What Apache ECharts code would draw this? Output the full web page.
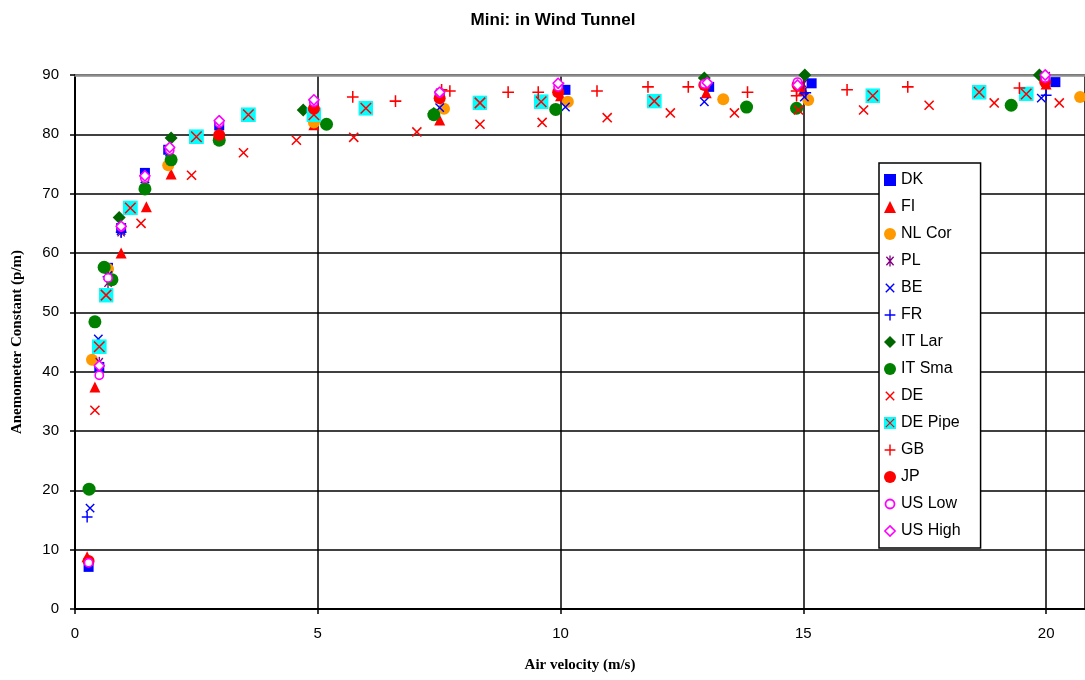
<!DOCTYPE html>
<html><head><meta charset="utf-8">
<script src="https://cdn.jsdelivr.net/npm/echarts@6/dist/echarts.min.js"></script>
<style>html,body{margin:0;padding:0;background:#fff}#c{width:1085px;height:680px}</style>
</head><body><div id="c"></div>
<script>
const seriesNames = ['DK','FI','NL Cor','PL','BE','FR','IT Lar','IT Sma','DE','DE Pipe','GB','JP','US Low','US High'];
const xTicks = [0,5,10,15,20];
const yTicks = [0,10,20,30,40,50,60,70,80,90];

const DK = [[0.28,7.1],[0.5,40.8],[0.68,57.5],[0.95,64.2],[1.44,73.5],[1.92,77.4],[2.97,81.5],[4.92,84.1],[7.51,86.5],[10.1,87.5],[13.06,88],[15.17,88.6],[20.19,88.8]];
const FI = [[0.25,8.8],[0.41,37.4],[0.95,60],[1.47,67.8],[1.98,73.3],[2.97,79.2],[4.92,81.6],[7.51,82.4],[10,86.5],[13,87],[15,87.5],[20,88.5]];
const NL_Cor = [[0.35,42],[0.68,57.3],[1.92,74.8],[2.97,79.5],[4.92,82],[7.6,84.3],[10.15,85.5],[13.35,85.9],[15.1,85.8],[20.7,86.3]];
const PL = [[0.5,41.6],[0.68,55],[0.95,63.5],[1.44,72.5],[1.95,77],[2.97,81],[4.92,85],[7.51,87],[10,88],[13,88.3],[15,88.5],[20,89.8]];
const BE = [[0.31,17],[0.48,45.5],[0.68,56.2],[0.95,63.8],[1.44,72.5],[1.95,77],[4.92,84.5],[7.51,84.5],[10.1,84.6],[12.96,85.5],[15.02,86.3],[19.9,86.1]];
const FR = [[0.25,15.5],[0.68,56],[0.95,63.5],[15.05,87],[20.0,86.6]];
const IT_Lar = [[0.91,66],[1.98,79.4],[4.7,84.1],[7.39,83.5],[12.96,89.5],[15.03,90],[19.86,90]];
const IT_Sma = [[0.29,20.2],[0.41,48.4],[0.6,57.6],[0.76,55.5],[1.44,70.8],[1.98,75.7],[2.97,79],[5.18,81.7],[7.39,83.3],[9.9,84.2],[13.83,84.6],[14.86,84.4],[19.28,84.9]];
const DE = [[0.41,33.5],[1.36,65],[2.4,73.1],[3.47,76.9],[4.56,79],[5.74,79.5],[7.04,80.4],[8.34,81.7],[9.62,82],[10.96,82.8],[12.26,83.6],[13.58,83.6],[14.9,84.1],[16.24,84.1],[17.59,84.9],[18.93,85.3],[20.27,85.3]];
const DE_Pipe = [[0.5,44.2],[0.64,52.9],[1.14,67.6],[2.5,79.6],[3.57,83.3],[4.92,83.3],[5.99,84.4],[8.34,85.3],[9.6,85.5],[11.93,85.6],[16.43,86.5],[18.62,87.1],[19.59,86.8]];
const GB = [[5.72,86.3],[6.6,85.6],[7.55,87.5],[7.72,87.3],[8.92,87.1],[9.54,87.1],[10.75,87.3],[11.8,88],[12.63,88],[13.85,87.1],[14.86,87.3],[14.86,86.5],[15.9,87.5],[17.15,88],[19.45,87.8]];
const JP = [[0.28,8.1],[2.97,79.9],[4.92,84.3],[7.51,86.1],[9.95,87.1],[12.96,88.3],[14.88,88.3],[19.98,88.8]];
const US_Low = [[0.28,7.8],[0.5,39.4],[0.68,55.8],[0.95,64.4],[1.44,72.6],[1.95,77.3],[2.97,81.9],[4.92,85.4],[7.51,87],[9.95,88],[12.96,88.5],[14.88,88.8],[19.98,89.5]];
const US_High = [[0.5,41],[0.95,64.5],[1.44,73],[1.95,77.8],[2.97,82.3],[4.92,85.8],[7.51,87.1],[9.95,88.6],[13.02,88.7],[14.88,88.3],[19.98,90]];

function svg(body){return 'image://data:image/svg+xml;charset=utf-8,'+encodeURIComponent("<svg xmlns='http://www.w3.org/2000/svg' width='40' height='40' viewBox='0 0 20 20'>"+body+"</svg>");}
const symX = c => svg("<path d='M3 3L17 17M17 3L3 17' stroke='"+c+"' stroke-width='2.4' fill='none'/>");
const symPlus = c => svg("<path d='M10 1V19M1 10H19' stroke='"+c+"' stroke-width='2.4' fill='none'/>");
const symAst = c => svg("<path d='M4 3L16 17M16 3L4 17M10 1V19' stroke='"+c+"' stroke-width='2.2' fill='none'/>");
const symPipe = svg("<rect x='0' y='0' width='20' height='20' fill='#00FFFF'/><path d='M3 3L17 17M17 3L3 17' stroke='#FF0000' stroke-width='2' fill='none'/>");
const symOCircle = c => svg("<circle cx='10' cy='10' r='7.5' stroke='"+c+"' stroke-width='3' fill='#fff'/>");
const symODiamond = c => svg("<path d='M10 1.5L18.5 10L10 18.5L1.5 10Z' stroke='"+c+"' stroke-width='2.6' fill='#fff'/>");

const dataMap = [DK,FI,NL_Cor,PL,BE,FR,IT_Lar,IT_Sma,DE,DE_Pipe,GB,JP,US_Low,US_High];
const styles = [
  {symbol:'rect', size:10, color:'#0000FF'},
  {symbol:'triangle', size:11, color:'#FF0000'},
  {symbol:'circle', size:12, color:'#FF9900'},
  {symbol:symAst('#800080'), size:12},
  {symbol:symX('#0000FF'), size:12},
  {symbol:symPlus('#0000FF'), size:12},
  {symbol:'diamond', size:13, color:'#006600'},
  {symbol:'circle', size:13, color:'#008000'},
  {symbol:symX('#FF0000'), size:13},
  {symbol:symPipe, size:15},
  {symbol:symPlus('#FF0000'), size:13},
  {symbol:'circle', size:12, color:'#FF0000'},
  {symbol:symOCircle('#FF00FF'), size:11},
  {symbol:symODiamond('#FF00FF'), size:12}
];

const series = seriesNames.map((n,i)=>{
  const s = styles[i];
  return {name:n, type:'scatter', data:dataMap[i], symbol:s.symbol, symbolSize:s.size, itemStyle:{color:s.color||'#FF00FF', opacity:1}, emphasis:{disabled:true}};
});

const chart = echarts.init(document.getElementById('c'), null, {renderer:'canvas'});
chart.setOption({
  animation:false,
  backgroundColor:'#fff',
  title:{text:'Mini: in Wind Tunnel', left:548, top:7, textAlign:'center', textStyle:{fontFamily:'Liberation Sans, Arial', fontWeight:'bold', fontSize:17, color:'#000'}},
  grid:{left:75, top:75, right:0, bottom:71, containLabel:false},
  legend:{orient:'vertical', left:879, top:163, width:99, padding:[9,20,9,5], itemGap:11, itemWidth:12, itemHeight:12,
    backgroundColor:'#fff', borderColor:'#000', borderWidth:1.5,
    textStyle:{fontFamily:'Liberation Sans, Arial', fontSize:16, color:'#000'},
    data:seriesNames},
  xAxis:[{type:'value', min:0, max:20.8, interval:5,
    name:'Air velocity (m/s)', nameLocation:'middle', nameGap:49,
    nameTextStyle:{fontFamily:'Liberation Serif, Times New Roman', fontWeight:'bold', fontSize:15, color:'#000'},
    axisLine:{lineStyle:{color:'#000', width:2}}, axisTick:{show:true, length:5, lineStyle:{color:'#000', width:1.5}},
    axisLabel:{fontFamily:'Liberation Sans, Arial', fontSize:15, color:'#000', margin:17, showMaxLabel:false, formatter:v=>xTicks.includes(v)?String(v):''},
    splitLine:{show:true, lineStyle:{color:'#000', width:1.5}}},
   {type:'value', position:'top', min:0, max:20.8, axisLine:{show:true, onZero:false, lineStyle:{color:'#8c8c8c', width:2.5}}, axisTick:{show:false}, axisLabel:{show:false}, splitLine:{show:false}}],
  yAxis:{type:'value', min:0, max:90, interval:10,
    name:'Anemometer Constant (p/m)', nameLocation:'middle', nameGap:50,
    nameTextStyle:{fontFamily:'Liberation Serif, Times New Roman', fontWeight:'bold', fontSize:15, color:'#000'},
    axisLine:{lineStyle:{color:'#000', width:2}}, axisTick:{show:true, length:5, lineStyle:{color:'#000', width:1.5}},
    axisLabel:{fontFamily:'Liberation Sans, Arial', fontSize:15, color:'#000', margin:16, formatter:v=>yTicks.includes(v)?String(v):''},
    splitLine:{show:true, lineStyle:{color:'#000', width:1.5}}},
  series:series
});
</script></body></html>
